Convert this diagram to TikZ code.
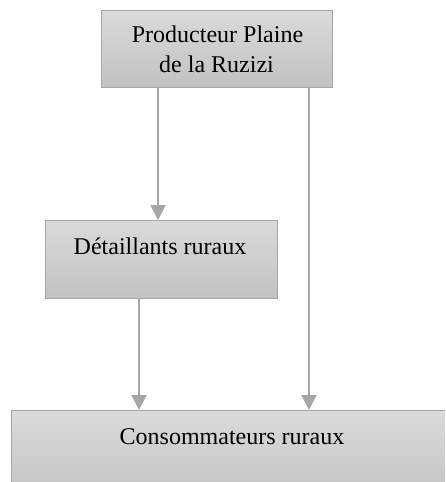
\documentclass[tikz,border=0pt]{standalone}
\usepackage{fontspec}
\setmainfont{Liberation Serif}
\usetikzlibrary{arrows.meta}
\definecolor{boxline}{HTML}{A6A6A6}
\definecolor{boxtop}{HTML}{DADADA}
\definecolor{boxbot}{HTML}{C2C2C2}
\definecolor{arrcol}{HTML}{A6A6A6}
\tikzset{
  box/.style={draw=boxline, line width=1pt, top color=boxtop, bottom color=boxbot,
    rectangle, inner sep=0pt, outer sep=0pt},
  lbl/.style={anchor=base, inner sep=0pt, font=\fontsize{24}{30}\selectfont, text=black},
  arr/.style={draw=arrcol, line width=2pt, -{Triangle[width=15pt,length=15pt]}, shorten >=0pt},
}
\begin{document}
\begin{tikzpicture}[x=1pt,y=-1pt]
\useasboundingbox (0,0) rectangle (445,482);
\clip (0,0) rectangle (445,482);
\node[box, minimum width=231pt, minimum height=77pt] (top) at (216.5,48.5) {};
\node[box, minimum width=232pt, minimum height=78pt] (mid) at (161,259) {};
\node[box, minimum width=450pt, minimum height=95pt] (bot) at (236,457.5) {};
\node[lbl] (t1) at (217.5,42) {Producteur Plaine};
\node[lbl] (t2) at (216.5,72) {de la Ruzizi};
\node[lbl] (t3) at (160,254) {Détaillants ruraux};
\node[lbl] (t4) at (232,444) {Consommateurs ruraux};
\coordinate (c1) at (158,0);
\coordinate (c2) at (309,0);
\coordinate (c3) at (139,0);
\draw[arr] (top.south -| c1) -- (mid.north -| c1);
\draw[arr] (top.south -| c2) -- (bot.north -| c2);
\draw[arr] (mid.south -| c3) -- (bot.north -| c3);
\end{tikzpicture}
\end{document}
